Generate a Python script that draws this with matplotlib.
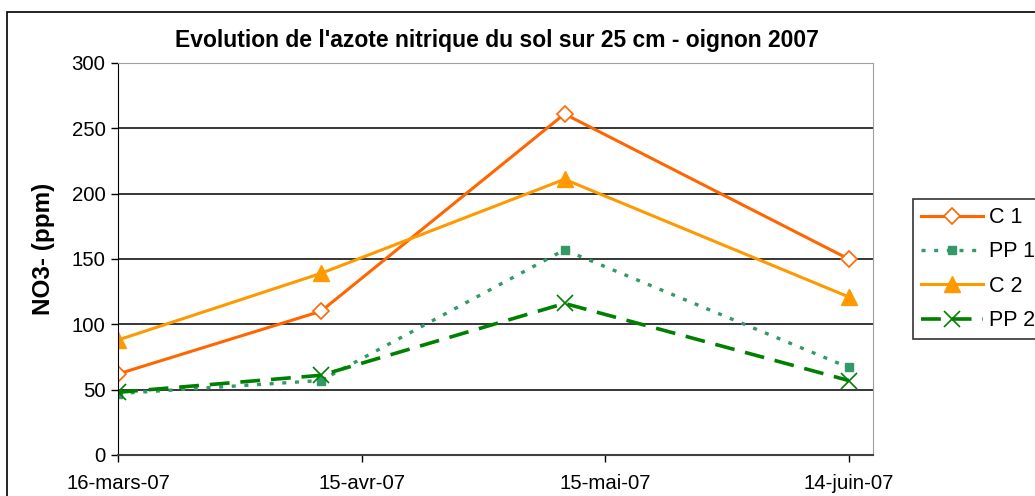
import numpy as np
import matplotlib
matplotlib.use('Agg')
import matplotlib.pyplot as plt
import matplotlib.dates as mdates
from matplotlib.patches import Rectangle

plt.rcParams['font.family'] = ['Liberation Sans', 'DejaVu Sans']

# dates of the soil samples
dates = ['2007-03-16', '2007-04-10', '2007-05-10', '2007-06-14']
c1 = [62, 110, 261, 150]
pp1 = [47, 57, 157, 67]
c2 = [88, 139, 211, 121]
pp2 = [48, 61, 116, 57]

tick_dates = ['2007-03-16', '2007-04-15', '2007-05-15', '2007-06-14']
tick_labels = ['16-mars-07', '15-avr-07', '15-mai-07', '14-juin-07']

x = mdates.datestr2num(dates)
xt = mdates.datestr2num(tick_dates)

fig = plt.figure(figsize=(10.35, 4.96), dpi=100)
ax = fig.add_axes([0.114, 0.0827, 0.7295, 0.7903])

# outer chart border
fig.patches.append(Rectangle((7/1035, -0.1), 1.2, 1 - 12/496 + 0.1, transform=fig.transFigure,
                             fill=False, edgecolor='black', linewidth=1.2, zorder=0))

l1, = ax.plot(x, c1, color='#FF6600', lw=2.2, marker='D', ms=8, mfc='white', mec='#FF6600', mew=1.2, label='C 1')
l2, = ax.plot(x, pp1, color='#339966', lw=2.4, ls=(0, (1.2, 2.6)), marker='s', ms=6, label='PP 1')
l3, = ax.plot(x, c2, color='#FF9900', lw=2.2, marker='^', ms=11, label='C 2')
l4, = ax.plot(x, pp2, color='#008000', lw=2.6, ls=(0, (5.5, 3)), marker='x', ms=12, mew=1.2, label='PP 2')

ax.set_ylim(0, 300)
ax.set_yticks(np.arange(0, 301, 50))
ax.set_xlim(xt[0], xt[-1] + 3)
ax.set_xticks(xt)
ax.set_xticklabels(tick_labels)
ax.yaxis.grid(True, color='black', lw=1.1)
ax.set_axisbelow(True)

ax.tick_params(axis='both', labelsize=14.7, direction='out', length=5, width=1, pad=4)
ax.tick_params(axis='x', pad=9)
ax.spines['left'].set_color('black')
ax.spines['bottom'].set_color('#404040')
ax.spines['bottom'].set_linewidth(1.5)
ax.spines['top'].set_color('#a0a0a0')
ax.spines['right'].set_color('#a0a0a0')

ax.set_ylabel('NO3- (ppm)', fontsize=17.5, fontweight='bold')
ax.yaxis.set_label_coords(-0.084, 0.525)
fig.text(0.4805, 0.919, "Evolution de l'azote nitrique du sol sur 25 cm - oignon 2007",
         ha='center', va='center', fontsize=16.5, fontweight='bold')

leg = fig.legend(handles=[l1, l2, l3, l4], loc='upper left', bbox_to_anchor=(0.882, 0.599),
                 fontsize=15.5, frameon=True, fancybox=False, handlelength=2.9,
                 handletextpad=0.25, labelspacing=0.62, borderpad=0.38, borderaxespad=0)
leg.get_frame().set_edgecolor('black')
leg.get_frame().set_linewidth(1.2)

fig.savefig('out.png', dpi=100)
